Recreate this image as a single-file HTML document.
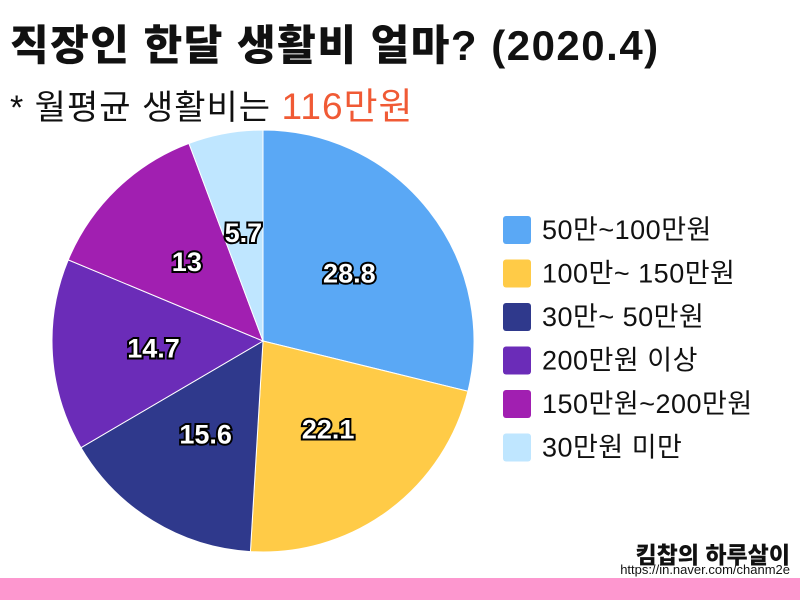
<!DOCTYPE html>
<html><head><meta charset="utf-8"><style>
body{margin:0;width:800px;height:600px;background:#fff;position:relative;overflow:hidden;font-family:"Liberation Sans","Noto Sans CJK KR",sans-serif}
.t{position:absolute;white-space:nowrap}
</style></head><body>
<div class="t" style="left:10px;top:12px;font-size:42px;font-weight:900;color:#111;letter-spacing:1.5px">직장인 한달 생활비 얼마? (2020.4)</div>
<div class="t" style="left:10px;top:76px;font-size:34px;color:#111;letter-spacing:1px">* 월평균 생활비는 <span style="color:#f05a35;font-size:37px">116만원</span></div>
<svg id="c" width="800" height="600" style="position:absolute;left:0;top:0"></svg>
<div class="t" style="right:10px;top:536px;font-size:23px;font-weight:900;color:#111">킴찹의 하루살이</div>
<div class="t" style="right:10px;top:562px;font-size:13px;color:#111">https://in.naver.com/chanm2e</div>
<div style="position:absolute;left:0;top:578px;width:800px;height:22px;background:#fd97cf"></div>
<script>
const categories=["50만~100만원","100만~ 150만원","30만~ 50만원","200만원 이상","150만원~200만원","30만원 미만"];
const values=[28.8,22.1,15.6,14.7,13,5.7];
const colors=["#5aa8f5","#ffcb47","#2f398c","#6b2cb8","#a11fb1","#bfe6ff"];
const svg=document.getElementById('c');const NS="http://www.w3.org/2000/svg";
const cx=263,cy=341,r=211;
const total=values.reduce((a,b)=>a+b,0);
function pt(a,rr){return [cx+rr*Math.sin(a),cy-rr*Math.cos(a)];}
let a0=0;
values.forEach((v,i)=>{
 const a1=a0+v/total*2*Math.PI;
 const p0=pt(a0,r),p1=pt(a1,r);
 const path=document.createElementNS(NS,'path');
 path.setAttribute('d',`M${cx},${cy}L${p0[0]},${p0[1]}A${r},${r} 0 ${a1-a0>Math.PI?1:0} 1 ${p1[0]},${p1[1]}Z`);
 path.setAttribute('fill',colors[i]);path.setAttribute('stroke','#fff');path.setAttribute('stroke-width','1');
 
 
 svg.appendChild(path);
 const m=(a0+a1)/2,lp=pt(m,r*0.52);
 const t=document.createElementNS(NS,'text');
 t.setAttribute('x',lp[0]);t.setAttribute('y',lp[1]+9);t.setAttribute('text-anchor','middle');
 t.setAttribute('font-size','27');t.setAttribute('font-weight','bold');t.setAttribute('fill','#fff');
 t.setAttribute('stroke','#000');t.setAttribute('stroke-width','4');t.setAttribute('paint-order','stroke');
 t.setAttribute('font-family','Liberation Sans, sans-serif');
 
 
 t.textContent=v;svg.appendChild(t);
 const ly=230+i*43.5;
 const rc=document.createElementNS(NS,'rect');
 rc.setAttribute('x',503);rc.setAttribute('y',ly-14);rc.setAttribute('width',28);rc.setAttribute('height',28);rc.setAttribute('rx',3);rc.setAttribute('fill',colors[i]);
 
 
 svg.appendChild(rc);
 const lt=document.createElementNS(NS,'text');
 lt.setAttribute('x',542);lt.setAttribute('y',ly+9);lt.setAttribute('font-size','27');lt.setAttribute('fill','#111');
 lt.setAttribute('letter-spacing','0.5');
 lt.setAttribute('font-family','Liberation Sans, Noto Sans CJK KR, sans-serif');
 
 
 lt.textContent=categories[i];svg.appendChild(lt);
 a0=a1;
});
</script>
</body></html>
